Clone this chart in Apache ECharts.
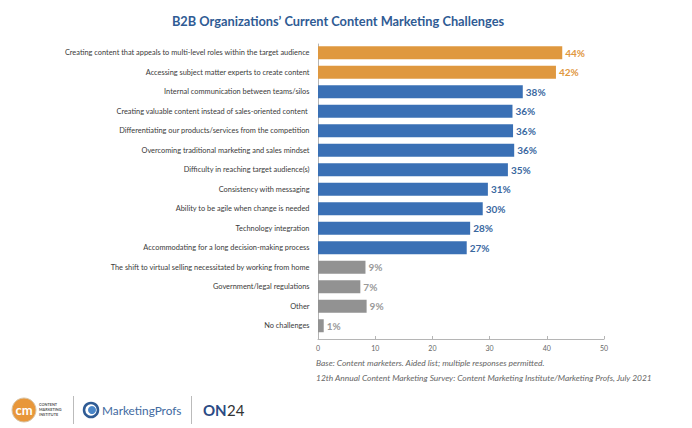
<!DOCTYPE html>
<html>
<head>
<meta charset="utf-8">
<style>
  html, body { margin: 0; padding: 0; background: #fff; }
  #chart { width: 692px; height: 428px; }
</style>
<script src="https://cdn.jsdelivr.net/npm/echarts@6/dist/echarts.min.js"></script>
</head>
<body>
<div id="chart"></div>
<script>
const categories = [
  'Creating content that appeals to multi-level roles within the target audience',
  'Accessing subject matter experts to create content',
  'Internal communication between teams/silos',
  'Creating valuable content instead of sales-oriented content ',
  'Differentiating our products/services from the competition',
  'Overcoming traditional marketing and sales mindset',
  'Difficulty in reaching target audience(s)',
  'Consistency with messaging',
  'Ability to be agile when change is needed',
  'Technology integration',
  'Accommodating for a long decision-making process',
  'The shift to virtual selling necessitated by working from home',
  'Government/legal regulations',
  'Other',
  'No challenges',
]
// bar lengths as drawn in the picture (they run a bit short of the printed labels)
const barValues = [42.7, 41.6, 35.8, 34, 34.1, 34.3, 33.2, 29.7, 28.8, 26.6, 26, 8.3, 7.4, 8.5, 1]
const printedLabels = ['44%', '42%', '38%', '36%', '36%', '36%', '35%', '31%', '30%', '28%', '27%', '9%', '7%', '9%', '1%']
const groups = ['top', 'top', 'main', 'main', 'main', 'main', 'main', 'main', 'main', 'main', 'main', 'rest', 'rest', 'rest', 'rest']
const xTicks = { min: 0, max: 50, interval: 10 }
const footnotes = [
  'Base: Content marketers. Aided list; multiple responses permitted.',
  '12th Annual Content Marketing Survey: Content Marketing Institute/Marketing Profs, July 2021',
]

const barColors = { top: '#df983f', main: '#3a70b5', rest: '#929292' }
const labelColors = { top: '#df983f', main: '#3a689f', rest: '#9a9a9a' }
const fontFamily = 'Lato, sans-serif'
const axisGrey = '#b5b5b5'

const chart = echarts.init(document.getElementById('chart'), null, { renderer: 'svg' })

chart.setOption({
  backgroundColor: '#fff',
  animation: false,
  title: {
    text: 'B2B Organizations\u2019 Current Content Marketing Challenges',
    left: 333,
    top: 9,
    textAlign: 'center',
    textStyle: { fontFamily, fontSize: 12.8, fontWeight: 'bold', color: '#2f5b94' },
  },
  grid: [
    { left: 318, width: 286, top: 43, height: 292.5 },
    { left: 318, width: 286, top: 44, height: 295 },
  ],
  xAxis: [
    { type: 'value', gridIndex: 0, min: xTicks.min, max: xTicks.max, show: false },
    {
      type: 'value',
      gridIndex: 1,
      min: xTicks.min,
      max: xTicks.max,
      interval: xTicks.interval,
      axisLine: { show: true, onZero: false, lineStyle: { color: axisGrey, width: 1 } },
      axisTick: { show: true, inside: true, length: 3, lineStyle: { color: axisGrey } },
      axisLabel: { fontFamily, fontSize: 7, color: '#666', margin: 5 },
      splitLine: { show: false },
    },
  ],
  yAxis: [
    {
      type: 'category',
      gridIndex: 0,
      inverse: true,
      data: categories,
      axisLine: { show: false },
      axisTick: { show: false },
      axisLabel: { fontFamily, fontSize: 7.4, color: '#3a3a3a', margin: 8.5 },
    },
    {
      type: 'value',
      gridIndex: 1,
      axisLine: { show: true, onZero: false, lineStyle: { color: axisGrey, width: 1 } },
      axisTick: { show: false },
      axisLabel: { show: false },
      splitLine: { show: false },
    },
  ],
  series: [
    {
      type: 'bar',
      xAxisIndex: 0,
      yAxisIndex: 0,
      barWidth: 13,
      z: 3,
      data: barValues.map((value, i) => ({
        value,
        itemStyle: { color: barColors[groups[i]] },
        label: { color: labelColors[groups[i]] },
      })),
      label: {
        show: true,
        position: 'right',
        distance: 3,
        fontFamily,
        fontSize: 10,
        fontWeight: 'bold',
        formatter: (p) => printedLabels[p.dataIndex],
      },
    },
  ],
  graphic: [
    {
      type: 'text',
      left: 316,
      top: 359,
      style: { text: footnotes[0], fontFamily, fontSize: 8.45, fontStyle: 'italic', fill: '#666' },
    },
    {
      type: 'text',
      left: 316,
      top: 374,
      style: { text: footnotes[1], fontFamily, fontSize: 8.45, fontStyle: 'italic', fill: '#666' },
    },
    // logo row
    { type: 'circle', shape: { cx: 24, cy: 410, r: 12 }, style: { fill: '#e8973a', stroke: '#d9c4a5', lineWidth: 1 } },
    { type: 'text', x: 24, y: 410, style: { text: 'cm', align: 'center', verticalAlign: 'middle', fontFamily, fontSize: 13, fontWeight: 'bold', fill: '#fff' } },
    { type: 'text', x: 39, y: 404.5, style: { text: 'CONTENT', verticalAlign: 'middle', fontFamily, fontSize: 3.8, fontWeight: 'bold', fill: '#555' } },
    { type: 'text', x: 39, y: 409.5, style: { text: 'MARKETING', verticalAlign: 'middle', fontFamily, fontSize: 3.8, fontWeight: 'bold', fill: '#555' } },
    { type: 'text', x: 39, y: 414, style: { text: 'INSTITUTE', verticalAlign: 'middle', fontFamily, fontSize: 3.8, fontWeight: 'bold', fill: '#555' } },
    { type: 'line', shape: { x1: 73.5, y1: 396, x2: 73.5, y2: 424 }, style: { stroke: '#bbb', lineWidth: 1 } },
    { type: 'circle', shape: { cx: 91, cy: 410, r: 7 }, style: { fill: '#fff', stroke: '#2f5b94', lineWidth: 2.5 } },
    { type: 'circle', shape: { cx: 92, cy: 410, r: 4 }, style: { fill: '#4a86c8' } },
    { type: 'text', x: 102, y: 410, style: { text: 'MarketingProfs', verticalAlign: 'middle', fontFamily, fontSize: 11.8, fill: '#3f6a9f' } },
    { type: 'line', shape: { x1: 191.5, y1: 396, x2: 191.5, y2: 424 }, style: { stroke: '#bbb', lineWidth: 1 } },
    { type: 'text', x: 203, y: 410, style: { text: 'ON', verticalAlign: 'middle', fontFamily, fontSize: 15, fontWeight: 'bold', fill: '#2b4b85' } },
    { type: 'text', x: 227, y: 410, style: { text: '24', verticalAlign: 'middle', fontFamily, fontSize: 15, fill: '#333' } },
  ],
})
</script>
</body>
</html>
